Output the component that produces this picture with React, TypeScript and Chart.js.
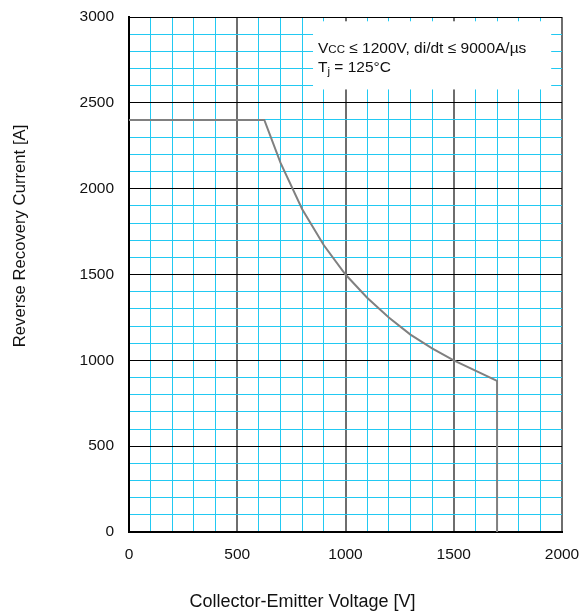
import React, { useEffect, useRef } from "react";
import { Chart, registerables } from "chart.js";

Chart.register(...registerables);

const voltage = [0, 625, 700, 800, 900, 1000, 1100, 1200, 1300, 1400, 1500, 1600, 1700, 1700];
const current = [2400, 2400, 2150, 1880, 1670, 1500, 1365, 1250, 1150, 1070, 1000, 940, 880, 0];
const xTitle = "Collector-Emitter Voltage [V]";
const yTitle = "Reverse Recovery Current [A]";
const noteLine1 = ["V", "CC", " ≤ 1200V, di/dt ≤ 9000A/µs"];
const noteLine2 = ["T", "j", " = 125°C"];

const FONT = "'Liberation Sans', Arial, sans-serif";
const CYAN = "#22c9f2";

const notePlugin = {
  id: "note",
  beforeDatasetsDraw(chart: any) {
    const { ctx, scales } = chart;
    const x = scales.x;
    const y = scales.y;
    const left = x.getPixelForValue(850);
    const right = x.getPixelForValue(1950);
    const top = y.getPixelForValue(2975);
    const bottom = y.getPixelForValue(2578);
    ctx.save();
    ctx.fillStyle = "#ffffff";
    ctx.fillRect(left, top, right - left, bottom - top);
    ctx.fillStyle = "#111111";
    ctx.textBaseline = "alphabetic";
    let tx = left + 5;
    const b1 = top + 32;
    ctx.font = `15.5px ${FONT}`;
    ctx.fillText(noteLine1[0], tx, b1);
    tx += ctx.measureText(noteLine1[0]).width;
    ctx.font = `11.5px ${FONT}`;
    ctx.fillText(noteLine1[1], tx, b1);
    tx += ctx.measureText(noteLine1[1]).width;
    ctx.font = `15.5px ${FONT}`;
    ctx.fillText(noteLine1[2], tx, b1);
    tx = left + 5;
    const b2 = b1 + 19;
    ctx.fillText(noteLine2[0], tx, b2);
    tx += ctx.measureText(noteLine2[0]).width;
    ctx.font = `11.5px ${FONT}`;
    ctx.fillText(noteLine2[1], tx, b2 + 3);
    tx += ctx.measureText(noteLine2[1]).width;
    ctx.font = `15.5px ${FONT}`;
    ctx.fillText(noteLine2[2], tx, b2);
    ctx.restore();
  },
  afterDraw(chart: any) {
    const { ctx } = chart;
    ctx.save();
    ctx.fillStyle = "#111111";
    ctx.textAlign = "center";
    ctx.textBaseline = "middle";
    ctx.font = `18px ${FONT}`;
    ctx.fillText(xTitle, 302.5, 602);
    ctx.translate(20, 236);
    ctx.rotate(-Math.PI / 2);
    ctx.font = `16.7px ${FONT}`;
    ctx.fillText(yTitle, 0, 0);
    ctx.restore();
  },
};

export default function App() {
  const ref = useRef<HTMLCanvasElement>(null);
  useEffect(() => {
    document.body.style.margin = "0";
    const chart = new Chart(ref.current!, {
      type: "scatter",
      data: {
        datasets: [
          {
            data: voltage.map((v, i) => ({ x: v, y: current[i] })),
            showLine: true,
            borderColor: "#808080",
            borderWidth: 2,
            pointRadius: 0,
            tension: 0,
          },
        ],
      },
      plugins: [notePlugin],
      options: {
        animation: false,
        responsive: false,
        maintainAspectRatio: false,
        layout: { padding: 0 },
        plugins: { legend: { display: false }, tooltip: { enabled: false } },
        scales: {
          x: {
            type: "linear",
            min: 0,
            max: 2000,
            afterFit: (s: any) => {
              s.height = 81;
              s.paddingLeft = 0;
              s.paddingRight = 19;
            },
            border: { color: "#000", width: 2 },
            grid: {
              drawTicks: false,
              color: (c: any) => (c.tick && c.tick.value % 500 === 0 ? "#6e6e6e" : CYAN),
              lineWidth: (c: any) => (c.tick && c.tick.value % 500 === 0 ? 2 : 1),
            },
            ticks: {
              stepSize: 100,
              autoSkip: false,
              maxRotation: 0,
              padding: 13,
              color: "#111",
              font: { family: FONT, size: 15.5 },
              callback: (v: any) => (Number(v) % 500 === 0 ? String(v) : ""),
            },
            title: { display: false },
          },
          y: {
            type: "linear",
            min: 0,
            max: 3000,
            afterFit: (s: any) => {
              s.width = 129;
              s.paddingTop = 17;
              s.paddingBottom = 0;
            },
            border: { color: "#000", width: 2 },
            grid: {
              drawTicks: false,
              color: (c: any) => (c.tick && c.tick.value % 500 === 0 ? "#000000" : CYAN),
              lineWidth: 1,
            },
            ticks: {
              stepSize: 100,
              autoSkip: false,
              padding: 15,
              color: "#111",
              font: { family: FONT, size: 15.5 },
              callback: (v: any) => (Number(v) % 500 === 0 ? String(v) : ""),
            },
            title: { display: false },
          },
        },
      },
    } as any);
    return () => chart.destroy();
  }, []);
  return (
    <div style={{ position: "absolute", left: 0, top: 0, width: 581, height: 613 }}>
      <canvas ref={ref} width={581} height={613} style={{ width: 581, height: 613 }} />
    </div>
  );
}
